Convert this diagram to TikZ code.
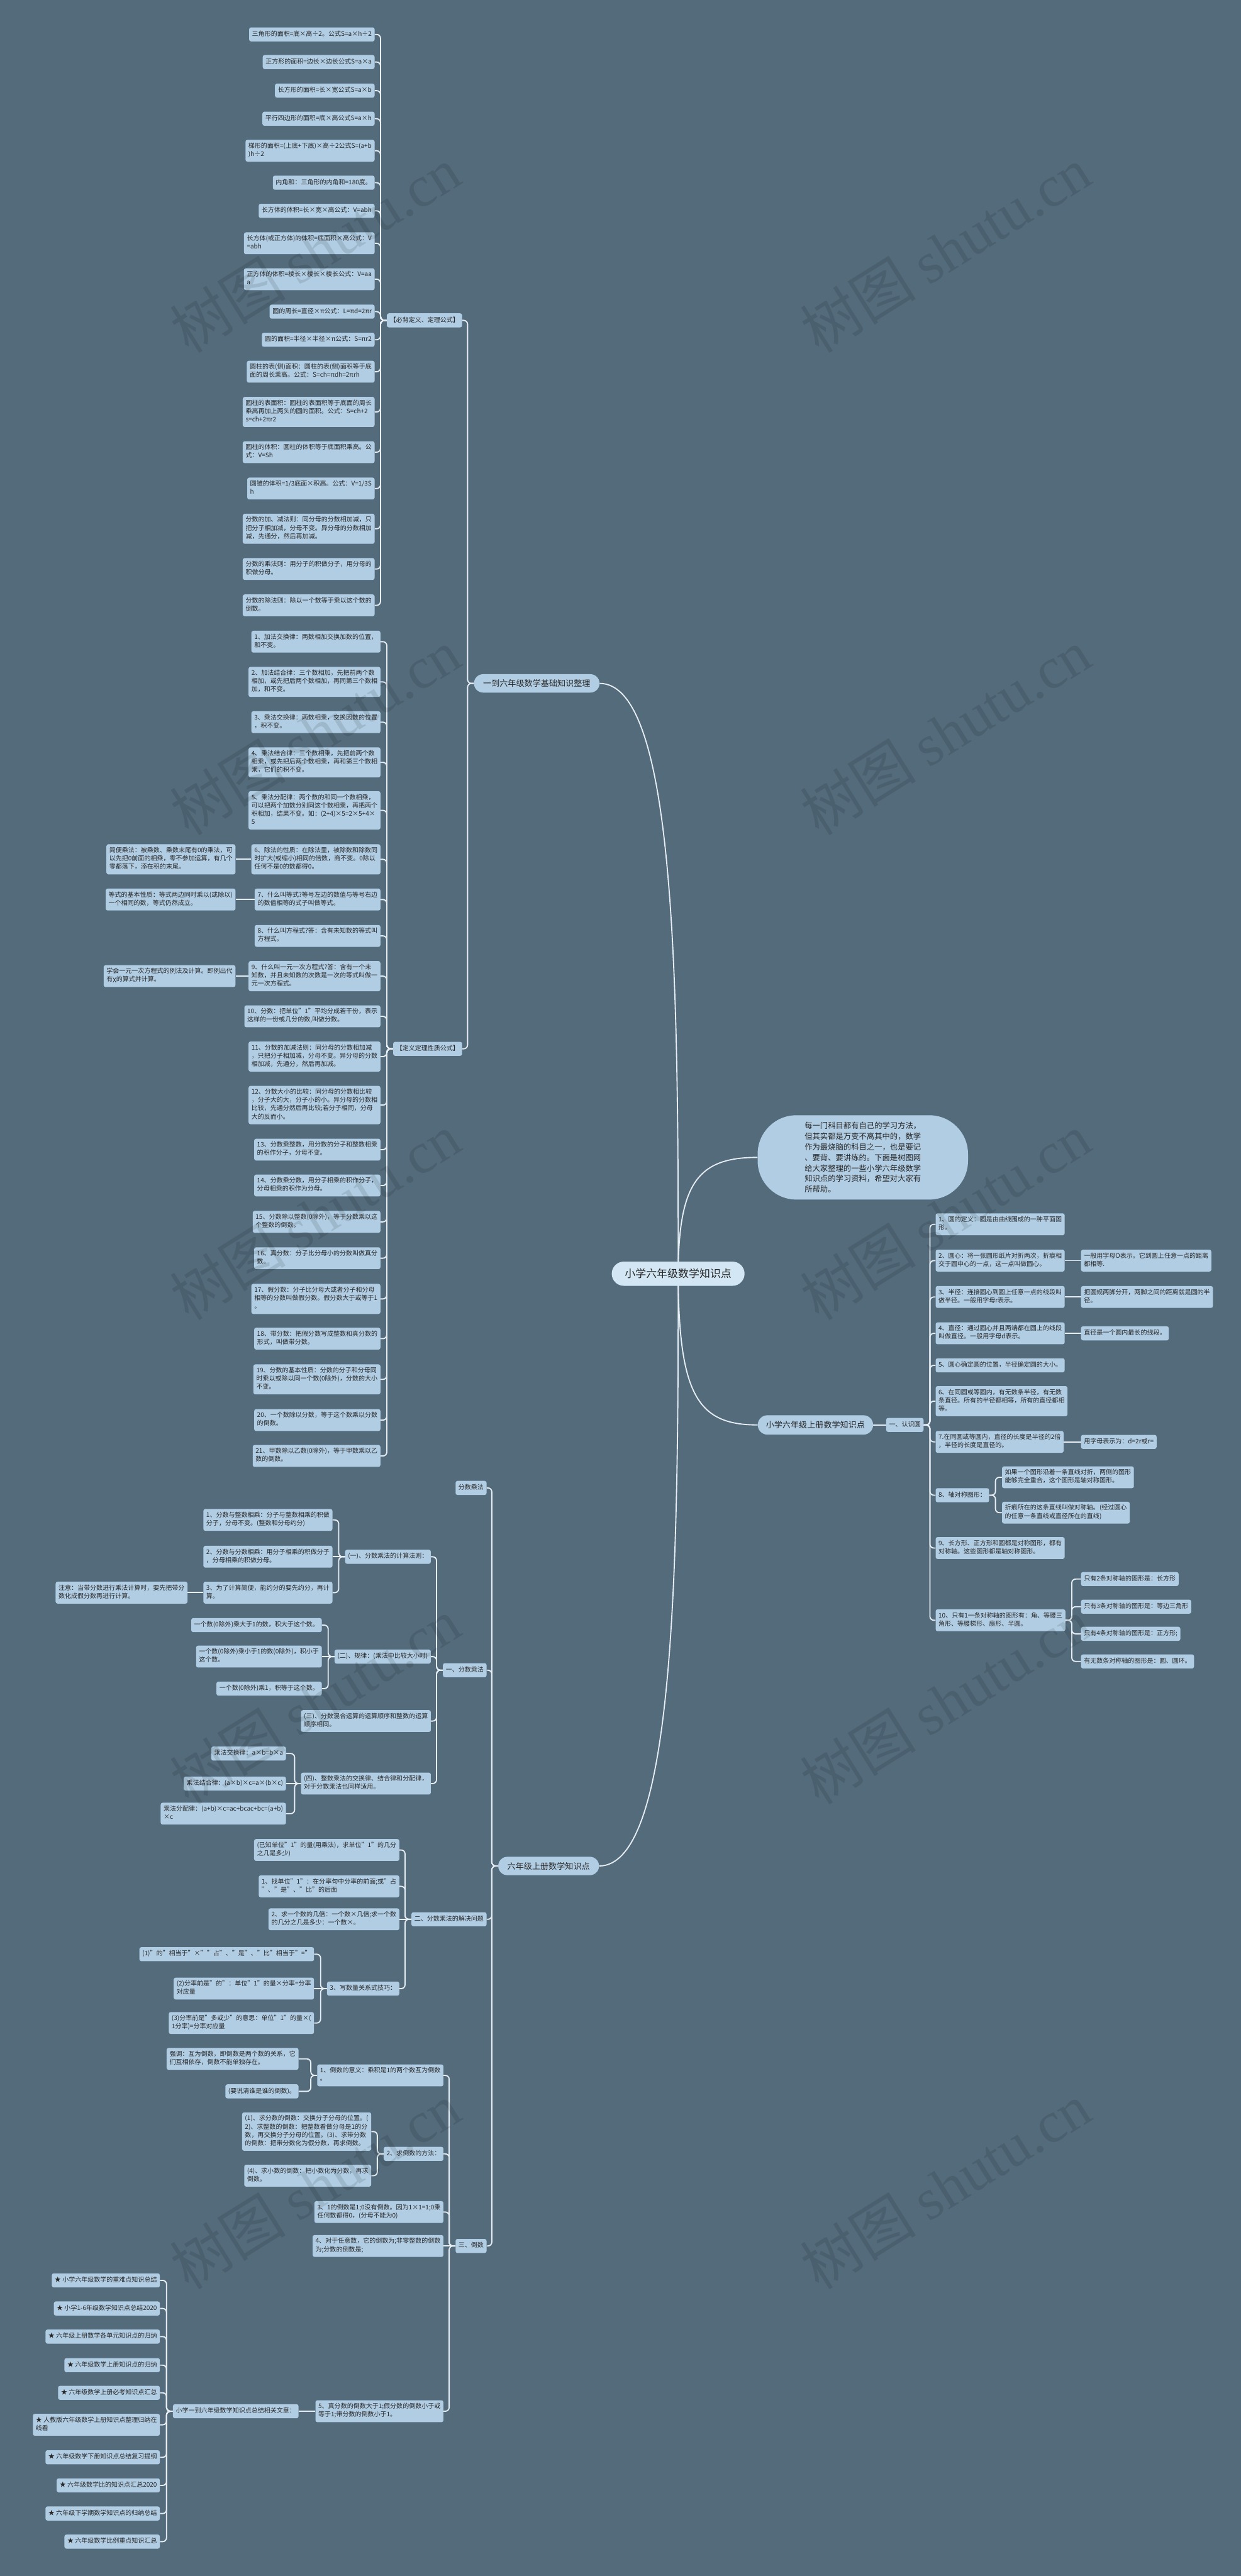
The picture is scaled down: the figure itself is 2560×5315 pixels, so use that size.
\documentclass[tikz,border=0pt]{standalone}
\usepackage{fontspec}
\setmainfont{Noto Sans CJK SC}
\newfontfamily\wmfont{Liberation Serif}
\pgfdeclarelayer{back}
\pgfsetlayers{back,main}
\definecolor{bgc}{HTML}{546B7C}
\definecolor{nodefill}{HTML}{B1CDE3}
\definecolor{mainfill}{HTML}{D3E6F3}
\definecolor{textc}{HTML}{262626}
\definecolor{linec}{HTML}{E6EEF4}
\tikzset{
  base/.style={fill=nodefill, text=textc, rounded corners=4pt, inner xsep=6pt, inner ysep=6pt, align=left, font=\fontsize{13}{17}\selectfont, execute at begin node=\strut, execute at end node=\strut},
  lbox/.style={base, anchor=east},
  rbox/.style={base, anchor=west},
  pill/.style={fill=nodefill, text=textc, rounded corners=19pt, minimum height=38pt, inner xsep=19pt, inner ysep=0pt, font=\fontsize{17}{20}\selectfont},
  conn/.style={draw=linec, line width=2.4pt, rounded corners=8pt},
  wm/.style={rotate=32, text=black, opacity=0.1, font=\fontsize{120}{130}\selectfont},
}
\newcommand\linkL[2]{\draw[conn] (#1.west) -- ++(-13,0) |- (#2.east);}
\newcommand\linkR[2]{\draw[conn] (#1.east) -- ++(13,0) |- (#2.west);}
\newcommand\linkS[2]{\draw[conn] (#1.west) -- (#2.east);}
\newcommand\linkSR[2]{\draw[conn] (#1.east) -- (#2.west);}
\begin{document}
\begin{tikzpicture}[x=1pt,y=-1pt]
\useasboundingbox (0,0) rectangle (2560,5315);
% main and first level
\node[fill=mainfill, text=textc, rounded corners=25pt, minimum height=50pt, inner xsep=27pt, inner ysep=0pt, font=\fontsize{22}{26}\selectfont] (main) at (1399,2628) {小学六年级数学知识点};
\node[pill, anchor=east] (A) at (1237,1410) {一到六年级数学基础知识整理};
\node[pill, anchor=east] (C) at (1236,3850) {六年级上册数学知识点};
\node[pill, anchor=west, minimum height=40pt, inner xsep=17pt, rounded corners=20pt] (B) at (1563,2940) {小学六年级上册数学知识点};
\node[fill=nodefill, text=textc, rounded corners=80pt, minimum width=434pt, minimum height=174pt, align=left, font=\fontsize{16}{22}\selectfont] (intro) at (1780,2388) {每一门科目都有自己的学习方法，\\但其实都是万变不离其中的，数学\\作为最烧脑的科目之一，也是要记\\、要背、要讲练的。下面是树图网\\给大家整理的一些小学六年级数学\\知识点的学习资料，希望对大家有\\所帮助。};
% A group
\node[rbox] (A1) at (798,661) {【必背定义、定理公式】};
\node[rbox] (A2) at (811,2164) {【定义定理性质公式】};
\node[lbox] (a1) at (773,71) {三角形的面积=底×高÷2。公式S=a×h÷2};
\node[lbox] (a2) at (773,128) {正方形的面积=边长×边长公式S=a×a};
\node[lbox] (a3) at (773,187) {长方形的面积=长×宽公式S=a×b};
\node[lbox] (a4) at (773,245) {平行四边形的面积=底×高公式S=a×h};
\node[lbox] (a5) at (773,311) {梯形的面积=(上底+下底)×高÷2公式S=(a+b\\)h÷2};
\node[lbox] (a6) at (773,377) {内角和：三角形的内角和=180度。};
\node[lbox] (a7) at (773,435) {长方体的体积=长×宽×高公式：V=abh};
\node[lbox] (a8) at (773,502) {长方体(或正方体)的体积=底面积×高公式：V\\=abh};
\node[lbox] (a9) at (773,576) {正方体的体积=棱长×棱长×棱长公式：V=aa\\a};
\node[lbox] (a10) at (773,643) {圆的周长=直径×π公式：L=πd=2πr};
\node[lbox] (a11) at (773,701) {圆的面积=半径×半径×π公式：S=πr2};
\node[lbox] (a12) at (773,767) {圆柱的表(侧)面积：圆柱的表(侧)面积等于底\\面的周长乘高。公式：S=ch=πdh=2πrh};
\node[lbox] (a13) at (773,850) {圆柱的表面积：圆柱的表面积等于底面的周长\\乘高再加上两头的圆的面积。公式：S=ch+2\\s=ch+2πr2};
\node[lbox] (a14) at (773,933) {圆柱的体积：圆柱的体积等于底面积乘高。公\\式：V=Sh};
\node[lbox] (a15) at (773,1008) {圆锥的体积=1/3底面×积高。公式：V=1/3S\\h};
\node[lbox] (a16) at (773,1091) {分数的加、减法则：同分母的分数相加减，只\\把分子相加减，分母不变。异分母的分数相加\\减，先通分，然后再加减。};
\node[lbox] (a17) at (773,1174) {分数的乘法则：用分子的积做分子，用分母的\\积做分母。};
\node[lbox] (a18) at (773,1249) {分数的除法则：除以一个数等于乘以这个数的\\倒数。};
\node[lbox] (b1) at (785,1324) {1、加法交换律：两数相加交换加数的位置，\\和不变。};
\node[lbox] (b2) at (785,1407) {2、加法结合律：三个数相加，先把前两个数\\相加，或先把后两个数相加，再同第三个数相\\加，和不变。};
\node[lbox] (b3) at (785,1490) {3、乘法交换律：两数相乘，交换因数的位置\\，积不变。};
\node[lbox] (b4) at (785,1573) {4、乘法结合律：三个数相乘，先把前两个数\\相乘，或先把后两个数相乘，再和第三个数相\\乘，它们的积不变。};
\node[lbox] (b5) at (785,1672) {5、乘法分配律：两个数的和同一个数相乘，\\可以把两个加数分别同这个数相乘，再把两个\\积相加，结果不变。如：(2+4)×5=2×5+4×\\5};
\node[lbox] (b6) at (785,1773) {6、除法的性质：在除法里，被除数和除数同\\时扩大(或缩小)相同的倍数，商不变。0除以\\任何不是0的数都得0。};
\node[lbox] (b6l) at (486,1773) {简便乘法：被乘数、乘数末尾有0的乘法，可\\以先把0前面的相乘，零不参加运算，有几个\\零都落下，添在积的末尾。};
\node[lbox] (b7) at (785,1856) {7、什么叫等式?等号左边的数值与等号右边\\的数值相等的式子叫做等式。};
\node[lbox] (b7l) at (486,1856) {等式的基本性质：等式两边同时乘以(或除以)\\一个相同的数，等式仍然成立。};
\node[lbox] (b8) at (785,1931) {8、什么叫方程式?答：含有未知数的等式叫\\方程式。};
\node[lbox] (b9) at (785,2014) {9、什么叫一元一次方程式?答：含有一个未\\知数，并且未知数的次数是一次的等式叫做一\\元一次方程式。};
\node[lbox] (b9l) at (486,2014) {学会一元一次方程式的例法及计算。即例出代\\有χ的算式并计算。};
\node[lbox] (b10) at (785,2097) {10、分数：把单位"1"平均分成若干份，表示\\这样的一份或几分的数,叫做分数。};
\node[lbox] (b11) at (785,2180) {11、分数的加减法则：同分母的分数相加减\\，只把分子相加减，分母不变。异分母的分数\\相加减，先通分，然后再加减。};
\node[lbox] (b12) at (785,2280) {12、分数大小的比较：同分母的分数相比较\\，分子大的大，分子小的小。异分母的分数相\\比较，先通分然后再比较;若分子相同，分母\\大的反而小。};
\node[lbox] (b13) at (785,2372) {13、分数乘整数，用分数的分子和整数相乘\\的积作分子，分母不变。};
\node[lbox] (b14) at (785,2446) {14、分数乘分数，用分子相乘的积作分子，\\分母相乘的积作为分母。};
\node[lbox] (b15) at (785,2521) {15、分数除以整数(0除外)，等于分数乘以这\\个整数的倒数。};
\node[lbox] (b16) at (785,2596) {16、真分数：分子比分母小的分数叫做真分\\数。};
\node[lbox] (b17) at (785,2680) {17、假分数：分子比分母大或者分子和分母\\相等的分数叫做假分数。假分数大于或等于1\\。};
\node[lbox] (b18) at (785,2762) {18、带分数：把假分数写成整数和真分数的\\形式，叫做带分数。};
\node[lbox] (b19) at (785,2846) {19、分数的基本性质：分数的分子和分母同\\时乘以或除以同一个数(0除外)，分数的大小\\不变。};
\node[lbox] (b20) at (785,2930) {20、一个数除以分数，等于这个数乘以分数\\的倒数。};
\node[lbox] (b21) at (785,3004) {21、甲数除以乙数(0除外)，等于甲数乘以乙\\数的倒数。};
% B group
\node[rbox] (B1) at (1828,2940) {一、认识圆};
\node[rbox] (r1) at (1930,2526) {1、圆的定义：圆是由曲线围成的一种平面图\\形。};
\node[rbox] (r2) at (1930,2601) {2、圆心：将一张圆形纸片对折两次，折痕相\\交于圆中心的一点，这一点叫做圆心。};
\node[rbox] (r2c) at (2230,2601) {一般用字母O表示。它到圆上任意一点的距离\\都相等.};
\node[rbox] (r3) at (1930,2676) {3、半径：连接圆心到圆上任意一点的线段叫\\做半径。一般用字母r表示。};
\node[rbox] (r3c) at (2230,2676) {把圆规两脚分开，两脚之间的距离就是圆的半\\径。};
\node[rbox] (r4) at (1930,2751) {4、直径：通过圆心并且两端都在圆上的线段\\叫做直径。一般用字母d表示。};
\node[rbox] (r4c) at (2230,2751) {直径是一个圆内最长的线段。};
\node[rbox] (r5) at (1930,2817) {5、圆心确定圆的位置，半径确定圆的大小。};
\node[rbox] (r6) at (1930,2891) {6、在同圆或等圆内，有无数条半径，有无数\\条直径。所有的半径都相等，所有的直径都相\\等。};
\node[rbox] (r7) at (1930,2975) {7.在同圆或等圆内，直径的长度是半径的2倍\\，半径的长度是直径的。};
\node[rbox] (r7c) at (2230,2975) {用字母表示为：d=2r或r=};
\node[rbox] (r8) at (1930,3085) {8、轴对称图形：};
\node[rbox] (r8a) at (2067,3048) {如果一个图形沿着一条直线对折，两侧的图形\\能够完全重合，这个图形是轴对称图形。};
\node[rbox] (r8b) at (2067,3121) {折痕所在的这条直线叫做对称轴。(经过圆心\\的任意一条直线或直径所在的直线)};
\node[rbox] (r9) at (1930,3194) {9、长方形、正方形和圆都是对称图形，都有\\对称轴。这些图形都是轴对称图形。};
\node[rbox] (r10) at (1930,3343) {10、只有1一条对称轴的图形有：角、等腰三\\角形、等腰梯形、扇形、半圆。};
\node[rbox] (r10a) at (2230,3258) {只有2条对称轴的图形是：长方形};
\node[rbox] (r10b) at (2230,3315) {只有3条对称轴的图形是：等边三角形};
\node[rbox] (r10c) at (2230,3371) {只有4条对称轴的图形是：正方形;};
\node[rbox] (r10d) at (2230,3428) {有无数条对称轴的图形是：圆、圆环。};
% C group
\node[lbox] (C0) at (1004,3070) {分数乘法};
\node[lbox] (C1) at (1004,3446) {一、分数乘法};
\node[lbox] (C2) at (1004,3960) {二、分数乘法的解决问题};
\node[lbox] (C3) at (1004,4634) {三、倒数};
\node[lbox] (c11) at (889,3212) {(一)、分数乘法的计算法则：};
\node[lbox] (c12) at (889,3418) {(二)、规律：(乘法中比较大小时)};
\node[lbox] (c13) at (889,3551) {(三)、分数混合运算的运算顺序和整数的运算\\顺序相同。};
\node[lbox] (c14) at (889,3680) {(四)、整数乘法的交换律、结合律和分配律，\\对于分数乘法也同样适用。};
\node[lbox] (c111) at (686,3136) {1、分数与整数相乘：分子与整数相乘的积做\\分子，分母不变。(整数和分母约分)};
\node[lbox] (c112) at (686,3212) {2、分数与分数相乘：用分子相乘的积做分子\\，分母相乘的积做分母。};
\node[lbox] (c113) at (686,3286) {3、为了计算简便，能约分的要先约分，再计\\算。};
\node[lbox] (c113l) at (387,3286) {注意：当带分数进行乘法计算时，要先把带分\\数化成假分数再进行计算。};
\node[lbox] (c121) at (664,3353) {一个数(0除外)乘大于1的数，积大于这个数。};
\node[lbox] (c122) at (664,3418) {一个数(0除外)乘小于1的数(0除外)，积小于\\这个数。};
\node[lbox] (c123) at (664,3484) {一个数(0除外)乘1，积等于这个数。};
\node[lbox] (c141) at (590,3618) {乘法交换律：a×b=b×a};
\node[lbox] (c142) at (590,3680) {乘法结合律：(a×b)×c=a×(b×c)};
\node[lbox] (c143) at (590,3742) {乘法分配律：(a+b)×c=ac+bcac+bc=(a+b)\\×c};
\node[lbox] (c21) at (824,3817) {(已知单位"1"的量(用乘法)，求单位"1"的几分\\之几是多少)};
\node[lbox] (c22) at (824,3892) {1、找单位"1"：在分率句中分率的前面;或"占\\"、"是"、"比"的后面};
\node[lbox] (c23) at (824,3960) {2、求一个数的几倍：一个数×几倍;求一个数\\的几分之几是多少：一个数×。};
\node[lbox] (c24) at (824,4103) {3、写数量关系式技巧：};
\node[lbox] (c241) at (648,4032) {(1)"的"相当于"×""占"、"是"、"比"相当于"="};
\node[lbox] (c242) at (648,4103) {(2)分率前是"的"：单位"1"的量×分率=分率\\对应量};
\node[lbox] (c243) at (648,4174) {(3)分率前是"多或少"的意思：单位"1"的量×(\\1分率)=分率对应量};
\node[lbox] (c31) at (915,4282) {1、倒数的意义：乘积是1的两个数互为倒数\\。};
\node[lbox] (c311) at (616,4248) {强调：互为倒数，即倒数是两个数的关系，它\\们互相依存，倒数不能单独存在。};
\node[lbox] (c312) at (616,4315) {(要说清谁是谁的倒数)。};
\node[lbox] (c32) at (915,4444) {2、求倒数的方法：};
\node[lbox] (c321) at (766,4398) {(1)、求分数的倒数：交换分子分母的位置。(\\2)、求整数的倒数：把整数看做分母是1的分\\数，再交换分子分母的位置。(3)、求带分数\\的倒数：把带分数化为假分数，再求倒数。};
\node[lbox] (c322) at (766,4489) {(4)、求小数的倒数：把小数化为分数，再求\\倒数。};
\node[lbox] (c33) at (915,4564) {3、1的倒数是1;0没有倒数。因为1×1=1;0乘\\任何数都得0，(分母不能为0)};
\node[lbox] (c34) at (915,4634) {4、对于任意数，它的倒数为;非零整数的倒数\\为;分数的倒数是;};
\node[lbox] (c35) at (915,4975) {5、真分数的倒数大于1;假分数的倒数小于或\\等于1;带分数的倒数小于1。};
\node[lbox] (c351) at (616,4975) {小学一到六年级数学知识点总结相关文章：};
\node[lbox] (s1) at (330,4705) {★ 小学六年级数学的重难点知识总结};
\node[lbox] (s2) at (330,4763) {★ 小学1-6年级数学知识点总结2020};
\node[lbox] (s3) at (330,4821) {★ 六年级上册数学各单元知识点的归纳};
\node[lbox] (s4) at (330,4880) {★ 六年级数学上册知识点的归纳};
\node[lbox] (s5) at (330,4937) {★ 六年级数学上册必考知识点汇总};
\node[lbox] (s6) at (330,5003) {★ 人教版六年级数学上册知识点整理归纳在\\线看};
\node[lbox] (s7) at (330,5070) {★ 六年级数学下册知识点总结复习提纲};
\node[lbox] (s8) at (330,5128) {★ 六年级数学比的知识点汇总2020};
\node[lbox] (s9) at (330,5186) {★ 六年级下学期数学知识点的归纳总结};
\node[lbox] (s10) at (330,5244) {★ 六年级数学比例重点知识汇总};
% connectors
\begin{pgfonlayer}{back}
\fill[bgc] (0,0) rectangle (2560,5315);
\draw[conn] (main.center) .. controls (1400,2000) and (1390,1410) .. (A.east);
\draw[conn] (main.center) .. controls (1400,3250) and (1390,3850) .. (C.east);
\draw[conn] (main.center) .. controls (1400,2440) and (1440,2388) .. (intro.west);
\draw[conn] (main.center) .. controls (1400,2880) and (1440,2940) .. (B.west);
\linkL{A}{A1} \linkL{A}{A2}
\foreach \i in {1,...,18} {\linkL{A1}{a\i}}
\foreach \i in {1,...,21} {\linkL{A2}{b\i}}
\linkS{b6}{b6l} \linkS{b7}{b7l} \linkS{b9}{b9l}
\linkSR{B}{B1}
\foreach \i in {1,...,10} {\linkR{B1}{r\i}}
\linkSR{r2}{r2c} \linkSR{r3}{r3c} \linkSR{r4}{r4c} \linkSR{r7}{r7c}
\linkR{r8}{r8a} \linkR{r8}{r8b}
\foreach \i in {a,b,c,d} {\linkR{r10}{r10\i}}
\linkL{C}{C0} \linkL{C}{C1} \linkL{C}{C2} \linkL{C}{C3}
\linkL{C1}{c11} \linkL{C1}{c12} \linkL{C1}{c13} \linkL{C1}{c14}
\linkL{c11}{c111} \linkS{c11}{c112} \linkL{c11}{c113} \linkS{c113}{c113l}
\linkL{c12}{c121} \linkS{c12}{c122} \linkL{c12}{c123}
\linkL{c14}{c141} \linkS{c14}{c142} \linkL{c14}{c143}
\linkL{C2}{c21} \linkL{C2}{c22} \linkS{C2}{c23} \linkL{C2}{c24}
\linkL{c24}{c241} \linkS{c24}{c242} \linkL{c24}{c243}
\linkL{C3}{c31} \linkL{C3}{c32} \linkL{C3}{c33} \linkS{C3}{c34} \linkL{C3}{c35}
\linkL{c31}{c311} \linkL{c31}{c312}
\linkL{c32}{c321} \linkL{c32}{c322}
\linkS{c35}{c351}
\foreach \i in {1,...,10} {\linkL{c351}{s\i}}
\end{pgfonlayer}
% watermarks
\foreach \yy in {515,1510,2510,3510,4510} {
  \node[wm] (wmL\yy) at (650,\yy) {树图 {\wmfont shutu.cn}};
  \node[wm] (wmR\yy) at (1950,\yy) {树图 {\wmfont shutu.cn}};
}
\end{tikzpicture}
\end{document}
